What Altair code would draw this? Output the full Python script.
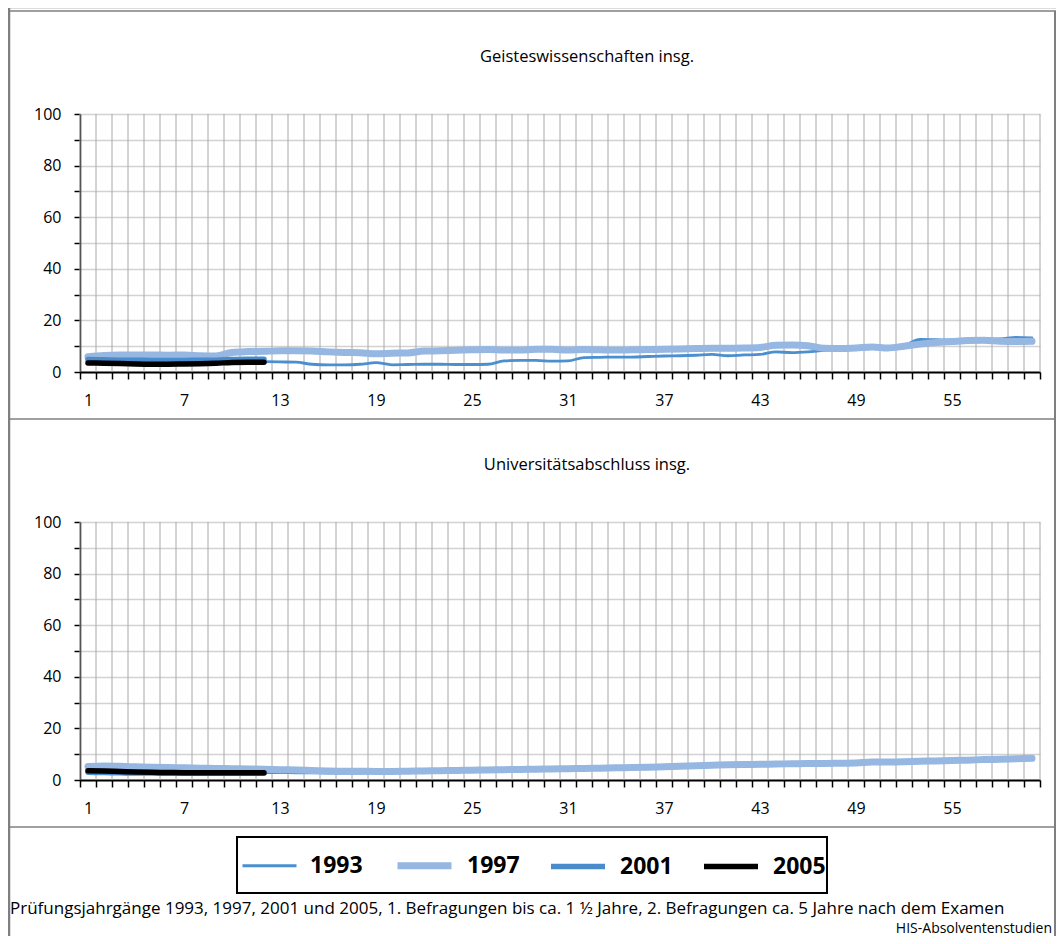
import altair as alt
import pandas as pd

# ---------------- data ----------------
YEARS = ["1993", "1997", "2001", "2005"]
MONTHS = list(range(1, 61))
PANELS = ["Geisteswissenschaften insg.", "Universitätsabschluss insg."]

geist_1993 = [4.4, 4.3, 4.2, 4.1, 4.0, 4.0, 4.0, 4.1, 4.2, 4.3, 4.2, 4.0,
              3.9, 3.8, 3.0, 2.8, 2.8, 3.0, 3.6, 2.8,
              2.9, 3.0, 3.0, 2.9, 2.9, 3.0, 4.3, 4.5, 4.5, 4.2,
              4.3, 5.6, 5.7, 5.8, 5.8, 6.0, 6.2, 6.3, 6.5, 6.8,
              6.3, 6.6, 6.8, 7.8, 7.5, 7.8, 8.4, 8.8, 9.2, 9.6,
              9.8, 10.4, 12.6, 12.5, 12.4, 12.6, 12.7, 12.8, 13.4, 13.2]
geist_1997 = [5.9, 6.4, 6.6, 6.6, 6.6, 6.5, 6.6, 6.3, 6.2, 7.6,
              7.9, 8.0, 8.2, 8.2, 8.1, 7.8, 7.6, 7.5, 7.1, 7.3,
              7.4, 8.1, 8.2, 8.4, 8.6, 8.7, 8.5, 8.5, 8.8, 8.8,
              8.5, 8.7, 8.6, 8.5, 8.6, 8.7, 8.8, 8.9, 9.1, 9.2,
              9.2, 9.3, 9.5, 10.4, 10.5, 10.2, 9.2, 9.1, 9.3, 9.7,
              9.3, 10.0, 10.8, 11.4, 11.8, 12.2, 12.3, 11.9, 11.8, 11.9]
geist_2001 = [4.8, 4.7, 4.6, 4.6, 4.5, 4.5, 4.5, 4.6, 4.6, 4.8, 4.9, 4.9]
geist_2005 = [3.5, 3.4, 3.3, 3.1, 3.0, 3.0, 3.1, 3.2, 3.4, 3.7, 3.8, 3.8]

uni_1993 = [3.4, 3.3, 3.2, 3.1, 3.0, 2.9, 2.9, 2.9, 2.9, 2.9, 2.9, 2.9,
            2.9, 2.8, 2.8, 2.7, 2.7, 2.7, 2.8, 2.9,
            3.0, 3.1, 3.2, 3.3, 3.5, 3.6, 3.8, 3.9, 4.0, 4.1,
            4.3, 4.4, 4.5, 4.6, 4.7, 4.8, 5.0, 5.2, 5.4, 5.6,
            5.8, 5.9, 6.0, 6.1, 6.2, 6.3, 6.3, 6.4, 6.5, 6.9,
            6.9, 7.0, 7.2, 7.3, 7.5, 7.6, 7.8, 7.9, 8.1, 8.3]
uni_1997 = [5.2, 5.4, 5.3, 5.1, 4.9, 4.8, 4.7, 4.6, 4.5, 4.4,
            4.3, 4.2, 4.0, 3.9, 3.7, 3.5, 3.4, 3.4, 3.3, 3.3,
            3.4, 3.5, 3.6, 3.7, 3.8, 3.9, 4.0, 4.1, 4.2, 4.3,
            4.4, 4.5, 4.6, 4.7, 4.8, 4.9, 5.1, 5.3, 5.5, 5.7,
            5.9, 6.0, 6.1, 6.2, 6.3, 6.4, 6.4, 6.5, 6.6, 7.0,
            7.0, 7.1, 7.3, 7.4, 7.6, 7.7, 7.9, 8.0, 8.2, 8.4]
uni_2001 = [3.0, 2.9, 2.8, 2.7, 2.7, 2.6, 2.6, 2.6, 2.6, 2.6, 2.6, 2.6]
uni_2005 = [3.6, 3.5, 3.3, 3.1, 3.0, 2.9, 2.8, 2.8, 2.8, 2.8, 2.8, 2.8]

Y_TICKS = list(range(0, 101, 10))
FOOTNOTE = ("Prüfungsjahrgänge 1993, 1997, 2001 und 2005, 1. Befragungen bis ca. 1 ½ Jahre, "
            "2. Befragungen ca. 5 Jahre nach dem Examen")
SOURCE = "HIS-Absolventenstudien"

COLORS = ["#4a8fd0", "#95b7e1", "#4a8bcc", "#000000"]
WIDTHS = [2.8, 7.0, 5.5, 5.5]

series = {
    PANELS[0]: [geist_1993, geist_1997, geist_2001, geist_2005],
    PANELS[1]: [uni_1993, uni_1997, uni_2001, uni_2005],
}
rows = []
for panel, lists in series.items():
    for yr, vals in zip(YEARS, lists):
        for m, v in zip(MONTHS, vals):
            rows.append({"panel": panel, "Jahr": yr, "Monat": m, "Wert": v})
df = pd.DataFrame(rows)
grid_df = pd.DataFrame({"Monat": MONTHS})

# ---------------- layout ----------------
W, H = 1048, 928
X0, X1 = 72, 1032
PANEL_Y = [(106, 364), (514, 772)]
FONT = "Open Sans"

legend = alt.Legend(orient="none", legendX=233, legendY=827, direction="horizontal",
                    title=None, symbolType="stroke", symbolSize=2916,
                    labelFont=FONT, labelFontSize=23, labelFontWeight="bold",
                    labelColor="black", labelOffset=12, columnPadding=20,
                    padding=0, labelLimit=200)


def xscale():
    return alt.Scale(type="band", domain=MONTHS, range=[X0, X1],
                     paddingInner=0, paddingOuter=0)


def vgrid(y0, y1):
    # vertical grid lines at the left edge of each month band
    return alt.Chart(grid_df).mark_rule(color="#a8a8a8", strokeWidth=1).encode(
        x=alt.X("Monat:O", bandPosition=0, axis=None, scale=xscale()),
        y=alt.value(y0), y2=alt.value(y1))


def panel_chart(name, y0, y1):
    x_axis = alt.Axis(orient="bottom", offset=y1 - H, title=None, tickBand="extent",
                      labelExpr="(datum.value - 1) % 6 == 0 ? datum.label : ''",
                      labelFont=FONT, labelFontSize=16, labelColor="black", labelAngle=0,
                      labelPadding=13, tickSize=7, tickColor="black", tickWidth=1.5,
                      domainColor="black", domainWidth=2, grid=False)
    y_axis = alt.Axis(orient="left", offset=-X0, title=None, values=Y_TICKS,
                      labelExpr="datum.value % 20 == 0 ? datum.label : ''",
                      labelFont=FONT, labelFontSize=16, labelColor="black",
                      labelPadding=13, tickSize=6, tickColor="black", tickWidth=1.5,
                      domainColor="black", domainWidth=1.5,
                      grid=True, gridColor="#d2d2d2", gridWidth=1.5)
    return alt.Chart(df).transform_filter(alt.datum.panel == name).mark_line(
        interpolate="monotone", strokeCap="round", strokeJoin="round"
    ).encode(
        x=alt.X("Monat:O", axis=x_axis, scale=xscale()),
        y=alt.Y("Wert:Q", axis=y_axis,
                scale=alt.Scale(domain=[0, 100], range=[y1, y0], nice=False)),
        color=alt.Color("Jahr:N", scale=alt.Scale(domain=YEARS, range=COLORS), legend=legend),
        strokeWidth=alt.StrokeWidth("Jahr:N",
                                    scale=alt.Scale(type="ordinal", domain=YEARS, range=WIDTHS),
                                    legend=legend),
        detail="Jahr:N",
    )


one = pd.DataFrame({"d": [0]})


def rule(x, x2, y, y2, color="#7f7f7f", width=1.5):
    return alt.Chart(one).mark_rule(color=color, strokeWidth=width).encode(
        x=alt.value(x), x2=alt.value(x2), y=alt.value(y), y2=alt.value(y2))


def label(text, x, y, size, align="center", weight="normal"):
    return alt.Chart(pd.DataFrame({"t": [text]})).mark_text(
        font=FONT, fontSize=size, align=align, baseline="middle", color="black",
        fontWeight=weight
    ).encode(text="t:N", x=alt.value(x), y=alt.value(y))


frame = [
    rule(1, 1, 0, H, width=2.5),
    rule(1047, 1047, 3, H, width=2),
    rule(0, W, 3, 3),
    rule(0, W, 411, 411),
    rule(0, W, 819, 819),
]
grids = []
for (y0, y1) in PANEL_Y:
    grids.append(vgrid(y0, y1))
    grids.append(rule(X1, X1, y0, y1, color="#a8a8a8", width=1))

box = alt.Chart(one).mark_rect(fillOpacity=0, stroke="black", strokeWidth=2).encode(
    x=alt.value(229), x2=alt.value(819), y=alt.value(829), y2=alt.value(885))

texts = [
    label(PANELS[0], 579, 49, 16.5),
    label(PANELS[1], 579, 457, 16.5),
    label(FOOTNOTE, 2, 901, 17, align="left"),
    label(SOURCE, 1044, 921, 14, align="right"),
]

chart = alt.layer(
    *frame, *grids, box,
    panel_chart(PANELS[0], *PANEL_Y[0]),
    panel_chart(PANELS[1], *PANEL_Y[1]),
    *texts,
).resolve_scale(x="independent", y="independent").properties(
    width=W, height=H, padding=0,
    autosize=alt.AutoSizeParams(type="none"),
).configure_view(strokeWidth=0).configure(background="white")

chart.save("out.html", embed_options={"renderer": "svg", "actions": False})
